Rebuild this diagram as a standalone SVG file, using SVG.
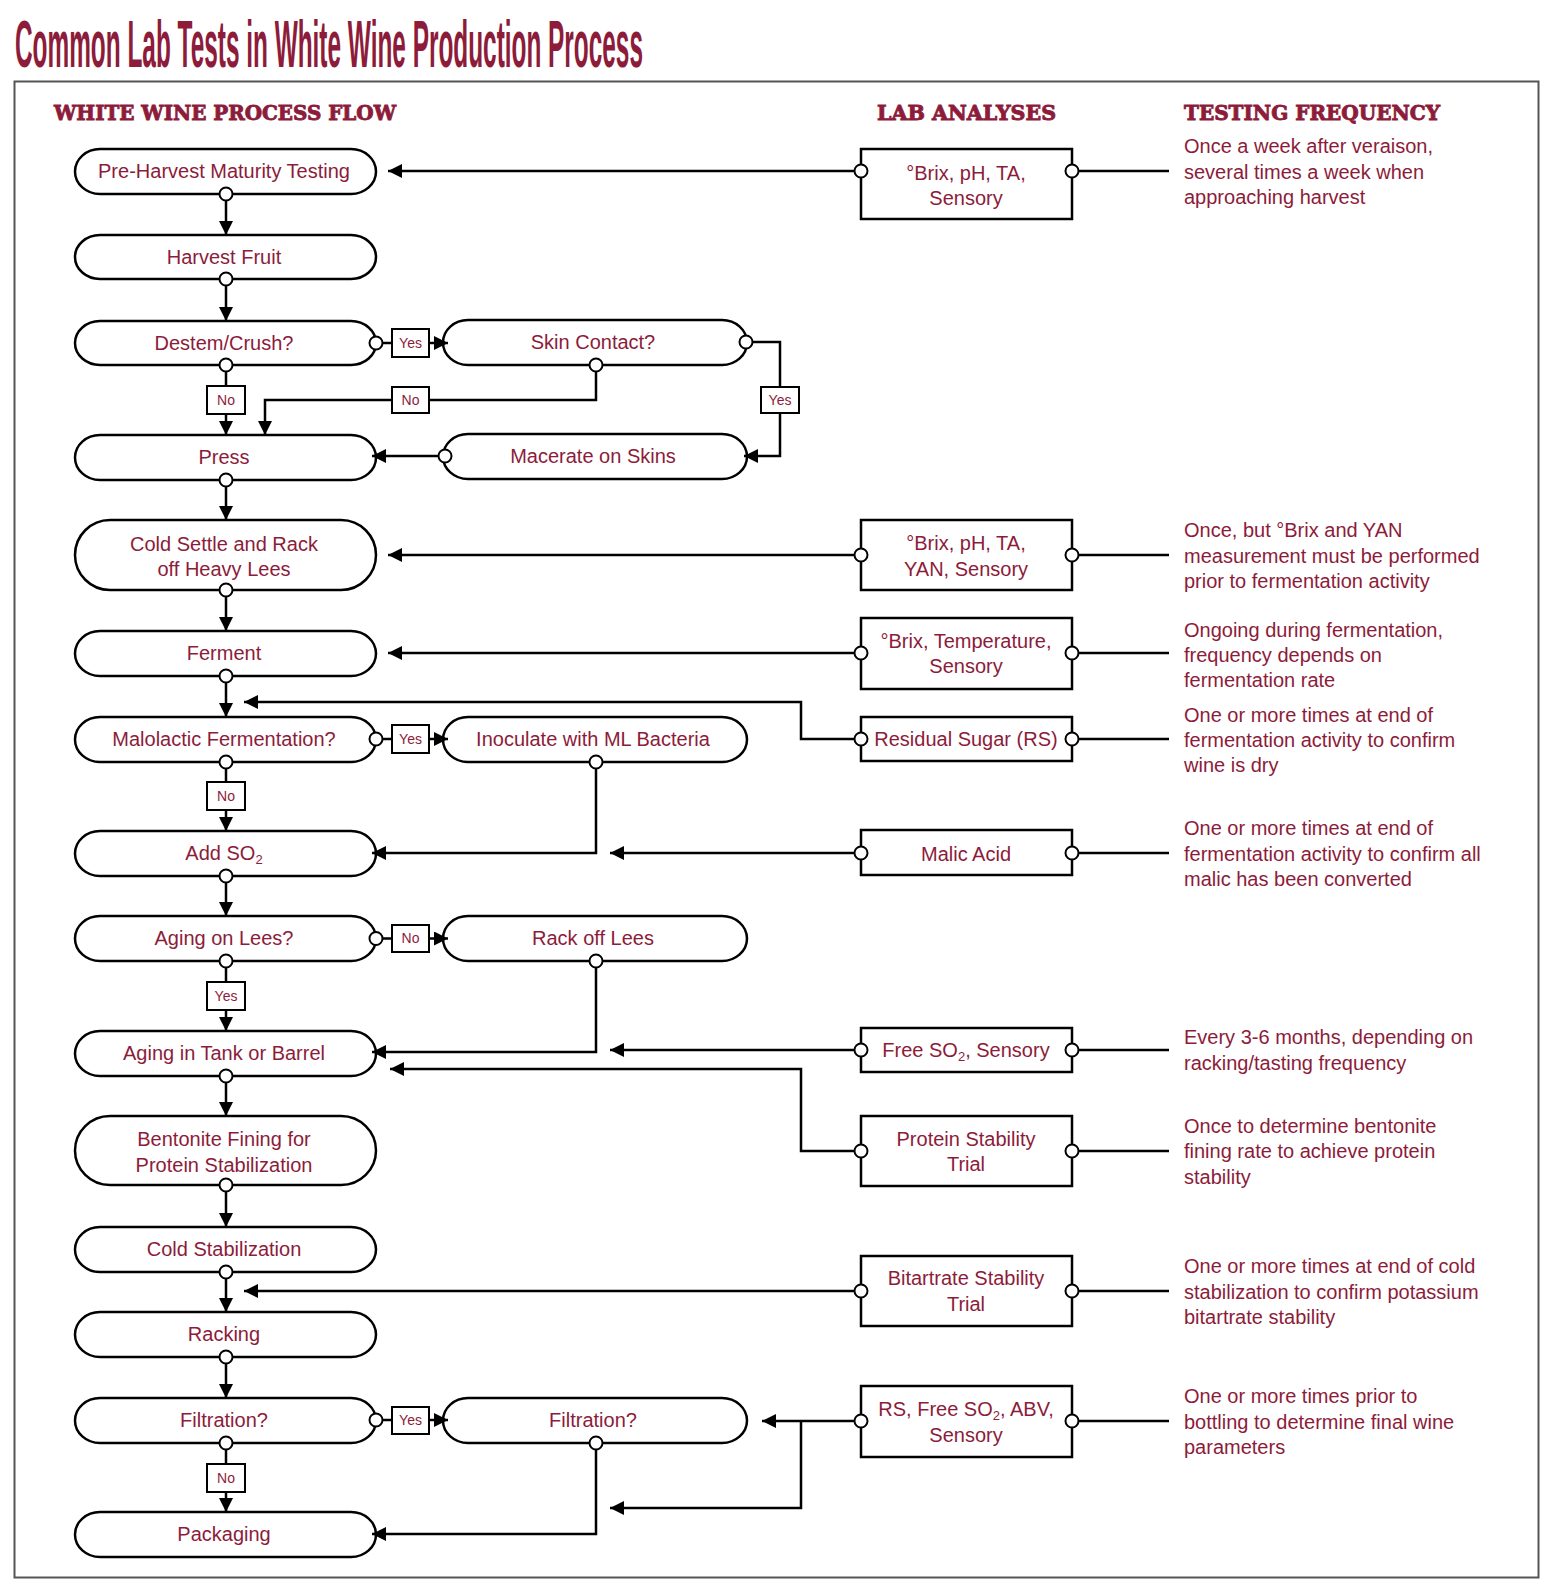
<svg xmlns="http://www.w3.org/2000/svg" width="1548" height="1588" viewBox="0 0 1548 1588">
<defs>
<marker id="arr" viewBox="0 0 14 14" refX="14" refY="7" markerWidth="14" markerHeight="14" markerUnits="userSpaceOnUse" orient="auto">
<path d="M0,0 L14,7 L0,14 Z" fill="#000"/>
</marker>
<style>
.t{font-family:"Liberation Sans",Arial,sans-serif;font-size:20px;fill:#8c1c3a;text-anchor:middle}
.f{font-family:"Liberation Sans",Arial,sans-serif;font-size:20px;fill:#8c1c3a}
.h{font-family:"DejaVu Serif","Liberation Serif",serif;font-size:21px;font-weight:bold;fill:#8c1c3a;stroke:#8c1c3a;stroke-width:0.9}
.pill{fill:#fff;stroke:#000;stroke-width:2.5}
.box{fill:#fff;stroke:#000;stroke-width:2.5}
.c{fill:none;stroke:#000;stroke-width:2.5}
.ca{fill:none;stroke:#000;stroke-width:2.5;marker-end:url(#arr)}
.p{fill:#fff;stroke:#000;stroke-width:2}
.lb{fill:#fff;stroke:#000;stroke-width:2}
.lt{font-family:"Liberation Sans",Arial,sans-serif;font-size:14px;fill:#8c1c3a;text-anchor:middle}
.sub{font-size:13px}
</style>
</defs>
<rect x="0" y="0" width="1548" height="1588" fill="#fff"/>
<text transform="translate(15,67) scale(1,2.67)" x="0" y="0" font-family="'Liberation Sans',Arial,sans-serif" font-weight="bold" font-size="24.7" fill="#8c1c3a" textLength="628" lengthAdjust="spacingAndGlyphs">Common Lab Tests in White Wine Production Process</text>
<rect x="14.5" y="81.5" width="1524" height="1496" fill="none" stroke="#555" stroke-width="2"/>
<text class="h" x="54" y="120" textLength="342" lengthAdjust="spacingAndGlyphs">WHITE WINE PROCESS FLOW</text>
<text class="h" x="877" y="120" textLength="179" lengthAdjust="spacingAndGlyphs">LAB ANALYSES</text>
<text class="h" x="1184" y="120" textLength="256" lengthAdjust="spacingAndGlyphs">TESTING FREQUENCY</text>

<g id="n-preharvest"><rect class="pill" x="75" y="149" width="301" height="45" rx="25" ry="22.5"/><text class="t" x="224" y="178">Pre-Harvest Maturity Testing</text></g>
<g id="n-harvest"><rect class="pill" x="75" y="235" width="301" height="44" rx="25" ry="22"/><text class="t" x="224" y="264">Harvest Fruit</text></g>
<g id="n-destem"><rect class="pill" x="75" y="321" width="301" height="44" rx="25" ry="22"/><text class="t" x="224" y="350">Destem/Crush?</text></g>
<g id="n-skin"><rect class="pill" x="443" y="320" width="304" height="45" rx="25" ry="22.5"/><text class="t" x="593" y="349">Skin Contact?</text></g>
<g id="n-press"><rect class="pill" x="75" y="435" width="301" height="45" rx="25" ry="22.5"/><text class="t" x="224" y="464">Press</text></g>
<g id="n-macerate"><rect class="pill" x="443" y="434" width="304" height="45" rx="25" ry="22.5"/><text class="t" x="593" y="463">Macerate on Skins</text></g>
<g id="n-coldsettle"><rect class="pill" x="75" y="520" width="301" height="70" rx="35" ry="35"/><text class="t" x="224" y="551">Cold Settle and Rack</text><text class="t" x="224" y="576">off Heavy Lees</text></g>
<g id="n-ferment"><rect class="pill" x="75" y="631" width="301" height="45" rx="25" ry="22.5"/><text class="t" x="224" y="660">Ferment</text></g>
<g id="n-malo"><rect class="pill" x="75" y="717" width="301" height="45" rx="25" ry="22.5"/><text class="t" x="224" y="746">Malolactic Fermentation?</text></g>
<g id="n-inoculate"><rect class="pill" x="443" y="717" width="304" height="45" rx="25" ry="22.5"/><text class="t" x="593" y="746">Inoculate with ML Bacteria</text></g>
<g id="n-addso2"><rect class="pill" x="75" y="831" width="301" height="45" rx="25" ry="22.5"/><text class="t" x="224" y="860">Add SO<tspan class="sub" dy="4">2</tspan></text></g>
<g id="n-aginglees"><rect class="pill" x="75" y="916" width="301" height="45" rx="25" ry="22.5"/><text class="t" x="224" y="945">Aging on Lees?</text></g>
<g id="n-rackoff"><rect class="pill" x="443" y="916" width="304" height="45" rx="25" ry="22.5"/><text class="t" x="593" y="945">Rack off Lees</text></g>
<g id="n-tank"><rect class="pill" x="75" y="1031" width="301" height="45" rx="25" ry="22.5"/><text class="t" x="224" y="1060">Aging in Tank or Barrel</text></g>
<g id="n-bentonite"><rect class="pill" x="75" y="1116" width="301" height="69" rx="35" ry="34.5"/><text class="t" x="224" y="1146">Bentonite Fining for</text><text class="t" x="224" y="1172">Protein Stabilization</text></g>
<g id="n-coldstab"><rect class="pill" x="75" y="1227" width="301" height="45" rx="25" ry="22.5"/><text class="t" x="224" y="1256">Cold Stabilization</text></g>
<g id="n-racking"><rect class="pill" x="75" y="1312" width="301" height="45" rx="25" ry="22.5"/><text class="t" x="224" y="1341">Racking</text></g>
<g id="n-filtration"><rect class="pill" x="75" y="1398" width="301" height="45" rx="25" ry="22.5"/><text class="t" x="224" y="1427">Filtration?</text></g>
<g id="n-filtration2"><rect class="pill" x="443" y="1398" width="304" height="45" rx="25" ry="22.5"/><text class="t" x="593" y="1427">Filtration?</text></g>
<g id="n-packaging"><rect class="pill" x="75" y="1512" width="301" height="45" rx="25" ry="22.5"/><text class="t" x="224" y="1541">Packaging</text></g>

<g id="lab-1"><rect class="box" x="861" y="149" width="211" height="70"/><text class="t" x="966" y="180">°Brix, pH, TA,</text><text class="t" x="966" y="205">Sensory</text></g>
<g id="lab-2"><rect class="box" x="861" y="520" width="211" height="70"/><text class="t" x="966" y="550">°Brix, pH, TA,</text><text class="t" x="966" y="576">YAN, Sensory</text></g>
<g id="lab-3"><rect class="box" x="861" y="618" width="211" height="71"/><text class="t" x="966" y="648">°Brix, Temperature,</text><text class="t" x="966" y="673">Sensory</text></g>
<g id="lab-4"><rect class="box" x="861" y="717" width="211" height="44"/><text class="t" x="966" y="746">Residual Sugar (RS)</text></g>
<g id="lab-5"><rect class="box" x="861" y="830" width="211" height="45"/><text class="t" x="966" y="861">Malic Acid</text></g>
<g id="lab-6"><rect class="box" x="861" y="1028" width="211" height="44"/><text class="t" x="966" y="1057">Free SO<tspan class="sub" dy="4">2</tspan><tspan dy="-4">, Sensory</tspan></text></g>
<g id="lab-7"><rect class="box" x="861" y="1116" width="211" height="70"/><text class="t" x="966" y="1146">Protein Stability</text><text class="t" x="966" y="1171">Trial</text></g>
<g id="lab-8"><rect class="box" x="861" y="1256" width="211" height="70"/><text class="t" x="966" y="1285">Bitartrate Stability</text><text class="t" x="966" y="1311">Trial</text></g>
<g id="lab-9"><rect class="box" x="861" y="1386" width="211" height="71"/><text class="t" x="966" y="1416">RS, Free SO<tspan class="sub" dy="4">2</tspan><tspan dy="-4">, ABV,</tspan></text><text class="t" x="966" y="1442">Sensory</text></g>

<g id="freq">
<text class="f" x="1184" y="153">Once a week after veraison,</text>
<text class="f" x="1184" y="179">several times a week when</text>
<text class="f" x="1184" y="204">approaching harvest</text>
<text class="f" x="1184" y="537">Once, but °Brix and YAN</text>
<text class="f" x="1184" y="563">measurement must be performed</text>
<text class="f" x="1184" y="588">prior to fermentation activity</text>
<text class="f" x="1184" y="637">Ongoing during fermentation,</text>
<text class="f" x="1184" y="662">frequency depends on</text>
<text class="f" x="1184" y="687">fermentation rate</text>
<text class="f" x="1184" y="722">One or more times at end of</text>
<text class="f" x="1184" y="747">fermentation activity to confirm</text>
<text class="f" x="1184" y="772">wine is dry</text>
<text class="f" x="1184" y="835">One or more times at end of</text>
<text class="f" x="1184" y="861">fermentation activity to confirm all</text>
<text class="f" x="1184" y="886">malic has been converted</text>
<text class="f" x="1184" y="1044">Every 3-6 months, depending on</text>
<text class="f" x="1184" y="1070">racking/tasting frequency</text>
<text class="f" x="1184" y="1133">Once to determine bentonite</text>
<text class="f" x="1184" y="1158">fining rate to achieve protein</text>
<text class="f" x="1184" y="1184">stability</text>
<text class="f" x="1184" y="1273">One or more times at end of cold</text>
<text class="f" x="1184" y="1299">stabilization to confirm potassium</text>
<text class="f" x="1184" y="1324">bitartrate stability</text>
<text class="f" x="1184" y="1403">One or more times prior to</text>
<text class="f" x="1184" y="1429">bottling to determine final wine</text>
<text class="f" x="1184" y="1454">parameters</text>
</g>

<g id="connectors">
<path class="ca" d="M226,194 V235"/>
<path class="ca" d="M226,279 V321"/>
<path class="ca" d="M376,343 H448"/>
<path class="ca" d="M226,365 V435"/>
<path class="ca" d="M596,365 V400 H265 V435"/>
<path class="ca" d="M746,342 H780 V456 H744"/>
<path class="ca" d="M445,456 H372"/>
<path class="ca" d="M226,480 V520"/>
<path class="ca" d="M226,590 V631"/>
<path class="ca" d="M226,676 V717"/>
<path class="ca" d="M376,739 H448"/>
<path class="ca" d="M226,762 V831"/>
<path class="ca" d="M596,762 V853 H372"/>
<path class="ca" d="M226,876 V916"/>
<path class="ca" d="M376,938.5 H448"/>
<path class="ca" d="M226,961 V1031"/>
<path class="ca" d="M596,961 V1052 H372"/>
<path class="ca" d="M226,1076 V1116"/>
<path class="ca" d="M226,1185 V1227"/>
<path class="ca" d="M226,1272 V1312"/>
<path class="ca" d="M226,1357 V1398"/>
<path class="ca" d="M376,1420 H448"/>
<path class="ca" d="M226,1443 V1512"/>
<path class="ca" d="M596,1443 V1534 H372"/>
<path class="ca" d="M861,171 H388"/>
<path class="ca" d="M861,555 H388"/>
<path class="ca" d="M861,653 H388"/>
<path class="ca" d="M861,739 H801 V702 H244"/>
<path class="ca" d="M861,853 H610"/>
<path class="ca" d="M861,1050 H610"/>
<path class="ca" d="M861,1151 H801 V1069 H390"/>
<path class="ca" d="M861,1291 H244"/>
<path class="ca" d="M861,1421 H762"/>
<path class="ca" d="M801,1421 V1508 H610"/>
<path class="c" d="M1072,171 H1169 M1072,555 H1169 M1072,653 H1169 M1072,739 H1169 M1072,853 H1169 M1072,1050 H1169 M1072,1151 H1169 M1072,1291 H1169 M1072,1421 H1169"/>
</g>

<g id="labels">
<rect class="lb" x="392" y="329" width="37" height="28"/><text class="lt" x="410.5" y="348">Yes</text>
<rect class="lb" x="207" y="386" width="38" height="28"/><text class="lt" x="226" y="405">No</text>
<rect class="lb" x="392" y="387" width="37" height="26"/><text class="lt" x="410.5" y="405">No</text>
<rect class="lb" x="761" y="387" width="38" height="26"/><text class="lt" x="780" y="405">Yes</text>
<rect class="lb" x="392" y="725" width="37" height="28"/><text class="lt" x="410.5" y="744">Yes</text>
<rect class="lb" x="207" y="782" width="38" height="28"/><text class="lt" x="226" y="801">No</text>
<rect class="lb" x="392" y="925" width="37" height="27"/><text class="lt" x="410.5" y="943">No</text>
<rect class="lb" x="207" y="982" width="38" height="28"/><text class="lt" x="226" y="1001">Yes</text>
<rect class="lb" x="392" y="1407" width="37" height="27"/><text class="lt" x="410.5" y="1425">Yes</text>
<rect class="lb" x="207" y="1464" width="38" height="28"/><text class="lt" x="226" y="1483">No</text>
</g>

<g id="ports">
<circle class="p" cx="226" cy="194" r="6.5"/>
<circle class="p" cx="226" cy="279" r="6.5"/>
<circle class="p" cx="226" cy="365" r="6.5"/>
<circle class="p" cx="376" cy="343" r="6.5"/>
<circle class="p" cx="596" cy="365" r="6.5"/>
<circle class="p" cx="746" cy="342" r="6.5"/>
<circle class="p" cx="445" cy="456" r="6.5"/>
<circle class="p" cx="226" cy="480" r="6.5"/>
<circle class="p" cx="226" cy="590" r="6.5"/>
<circle class="p" cx="226" cy="676" r="6.5"/>
<circle class="p" cx="226" cy="762" r="6.5"/>
<circle class="p" cx="376" cy="739" r="6.5"/>
<circle class="p" cx="596" cy="762" r="6.5"/>
<circle class="p" cx="226" cy="876" r="6.5"/>
<circle class="p" cx="226" cy="961" r="6.5"/>
<circle class="p" cx="376" cy="938.5" r="6.5"/>
<circle class="p" cx="596" cy="961" r="6.5"/>
<circle class="p" cx="226" cy="1076" r="6.5"/>
<circle class="p" cx="226" cy="1185" r="6.5"/>
<circle class="p" cx="226" cy="1272" r="6.5"/>
<circle class="p" cx="226" cy="1357" r="6.5"/>
<circle class="p" cx="226" cy="1443" r="6.5"/>
<circle class="p" cx="376" cy="1420" r="6.5"/>
<circle class="p" cx="596" cy="1443" r="6.5"/>
<circle class="p" cx="861" cy="171" r="6.5"/><circle class="p" cx="1072" cy="171" r="6.5"/>
<circle class="p" cx="861" cy="555" r="6.5"/><circle class="p" cx="1072" cy="555" r="6.5"/>
<circle class="p" cx="861" cy="653" r="6.5"/><circle class="p" cx="1072" cy="653" r="6.5"/>
<circle class="p" cx="861" cy="739" r="6.5"/><circle class="p" cx="1072" cy="739" r="6.5"/>
<circle class="p" cx="861" cy="853" r="6.5"/><circle class="p" cx="1072" cy="853" r="6.5"/>
<circle class="p" cx="861" cy="1050" r="6.5"/><circle class="p" cx="1072" cy="1050" r="6.5"/>
<circle class="p" cx="861" cy="1151" r="6.5"/><circle class="p" cx="1072" cy="1151" r="6.5"/>
<circle class="p" cx="861" cy="1291" r="6.5"/><circle class="p" cx="1072" cy="1291" r="6.5"/>
<circle class="p" cx="861" cy="1421" r="6.5"/><circle class="p" cx="1072" cy="1421" r="6.5"/>
</g>
</svg>
